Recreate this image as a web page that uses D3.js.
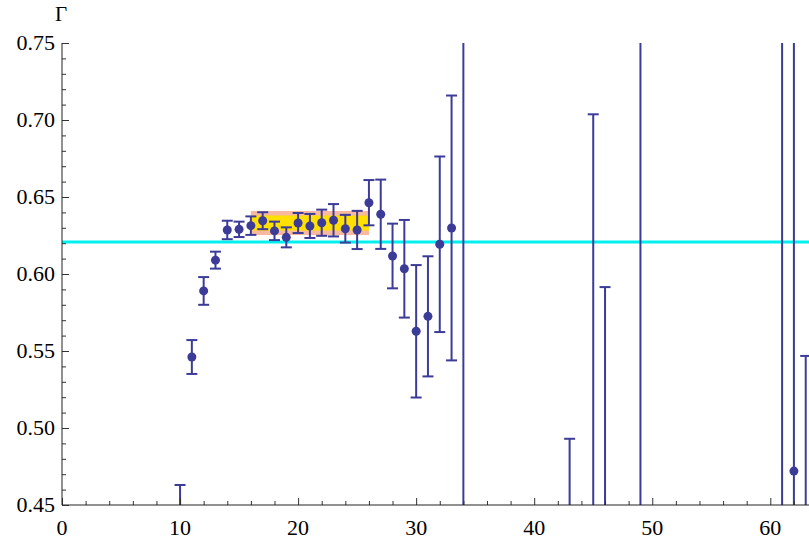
<!DOCTYPE html>
<html>
<head>
<meta charset="utf-8">
<script src="https://cdn.jsdelivr.net/npm/d3@7"></script>
<style>
  body { margin: 0; background: #fff; }
  svg { display: block; }
  text.lbl { font-family: "Liberation Serif", "DejaVu Serif", serif; font-size: 22px; fill: #000; }
</style>
</head>
<body>
<div id="chart"></div>
<script>
// data
var xs = [10, 11, 12, 13, 14, 15, 16, 17, 18, 19, 20, 21, 22, 23, 24, 25, 26, 27, 28, 29, 30, 31, 32, 33, 34, 43, 45, 46, 49, 61, 62, 63];
var gammaValues = [0.42, 0.5461, 0.589, 0.609, 0.6286, 0.629, 0.6314, 0.6346, 0.628, 0.6238, 0.6331, 0.6312, 0.6333, 0.6349, 0.6294, 0.6286, 0.6463, 0.6388, 0.6117, 0.6034, 0.5628, 0.5725, 0.6193, 0.6299, 0.30, 0.40, 0.40, 0.42, 0.90, 0.95, 0.472, 0.38];
var gammaErrors = [0.043, 0.011, 0.009, 0.0055, 0.006, 0.005, 0.006, 0.0055, 0.006, 0.0065, 0.0065, 0.0078, 0.0085, 0.0105, 0.009, 0.0124, 0.0147, 0.0225, 0.021, 0.0317, 0.043, 0.039, 0.057, 0.086, 0.50, 0.093, 0.3037, 0.1715, 0.50, 0.55, 0.50, 0.1668];
var fitValue = 0.6208;
var bandRange = [16, 26];
var bandCenter = 0.6331;
var bandOuter = 0.0078;
var bandInner = 0.0049;
var xTicks = [0, 10, 20, 30, 40, 50, 60];
var yTicks = [0.45, 0.50, 0.55, 0.60, 0.65, 0.70, 0.75];

var width = 809, height = 545;
var margin = { top: 43, left: 62, bottom: 40 };
var plotBottom = height - margin.bottom;

var svg = d3.select("#chart").append("svg")
  .attr("width", width)
  .attr("height", height);

var xScale = d3.scaleLinear().domain([0, 63.5]).range([margin.left, margin.left + 63.5 * 11.805]);
var yScale = d3.scaleLinear().domain([0.45, 0.75]).range([plotBottom, margin.top]);

svg.append("defs").append("clipPath").attr("id", "clip")
  .append("rect")
  .attr("x", margin.left).attr("y", margin.top)
  .attr("width", width - margin.left).attr("height", plotBottom - margin.top);

var plot = svg.append("g").attr("clip-path", "url(#clip)");

// fit band
plot.append("rect")
  .attr("x", xScale(bandRange[0]))
  .attr("width", xScale(bandRange[1]) - xScale(bandRange[0]))
  .attr("y", yScale(bandCenter + bandOuter))
  .attr("height", yScale(bandCenter - bandOuter) - yScale(bandCenter + bandOuter))
  .attr("fill", "#f9b9a0");
plot.append("rect")
  .attr("x", xScale(bandRange[0]))
  .attr("width", xScale(bandRange[1]) - xScale(bandRange[0]))
  .attr("y", yScale(bandCenter + bandInner))
  .attr("height", yScale(bandCenter - bandInner) - yScale(bandCenter + bandInner))
  .attr("fill", "#ffe000");

// horizontal line
plot.append("line")
  .attr("x1", margin.left).attr("x2", width)
  .attr("y1", yScale(fitValue)).attr("y2", yScale(fitValue))
  .attr("stroke", "#00f0f0")
  .attr("stroke-width", 3);

var points = xs.map(function (x, i) {
  return { x: x, v: gammaValues[i], e: gammaErrors[i] };
});

var color = "#3c3c98";
var bars = plot.append("g").selectAll("g").data(points).join("g");

bars.append("line")
  .attr("x1", d => xScale(d.x)).attr("x2", d => xScale(d.x))
  .attr("y1", d => yScale(d.v - d.e)).attr("y2", d => yScale(d.v + d.e))
  .attr("stroke", color).attr("stroke-width", 2);
bars.append("line")
  .attr("x1", d => xScale(d.x) - 5.5).attr("x2", d => xScale(d.x) + 5.5)
  .attr("y1", d => yScale(d.v - d.e)).attr("y2", d => yScale(d.v - d.e))
  .attr("stroke", color).attr("stroke-width", 2);
bars.append("line")
  .attr("x1", d => xScale(d.x) - 5.5).attr("x2", d => xScale(d.x) + 5.5)
  .attr("y1", d => yScale(d.v + d.e)).attr("y2", d => yScale(d.v + d.e))
  .attr("stroke", color).attr("stroke-width", 2);
bars.append("circle")
  .attr("cx", d => xScale(d.x)).attr("cy", d => yScale(d.v))
  .attr("r", 4.5)
  .attr("fill", color);

// axes, ticks pointing inward
var xAxis = svg.append("g").attr("transform", "translate(0," + plotBottom + ")");
xAxis.call(d3.axisTop(xScale).tickValues(d3.range(0, 64, 2)).tickSize(4).tickFormat(""));
xAxis.selectAll(".tick line").filter(d => d % 10 === 0).attr("y2", -7);
xAxis.selectAll(".domain").remove();
xAxis.append("line").attr("x1", margin.left).attr("x2", width).attr("stroke", "#222");
xAxis.selectAll(".tick line").attr("stroke", "#333");

var yAxis = svg.append("g").attr("transform", "translate(" + margin.left + ",0)");
yAxis.call(d3.axisRight(yScale).tickValues(d3.range(45, 76, 1).map(d => d / 100)).tickSize(4).tickFormat(""));
yAxis.selectAll(".tick line").filter(d => Math.round(d * 100) % 5 === 0).attr("x2", 7);
yAxis.selectAll(".domain").remove();
yAxis.append("line").attr("y1", margin.top).attr("y2", plotBottom).attr("stroke", "#222");
yAxis.selectAll(".tick line").attr("stroke", "#333");

// tick labels
svg.append("g").selectAll("text").data(xTicks).join("text")
  .attr("class", "lbl")
  .attr("x", d => xScale(d))
  .attr("y", plotBottom + 30)
  .attr("text-anchor", "middle")
  .text(d => d);

svg.append("g").selectAll("text").data(yTicks).join("text")
  .attr("class", "lbl")
  .attr("x", margin.left - 7)
  .attr("y", d => yScale(d) + 7)
  .attr("text-anchor", "end")
  .text(d => d.toFixed(2));

svg.append("text")
  .attr("class", "lbl")
  .attr("x", 61).attr("y", 21)
  .attr("text-anchor", "middle")
  .style("font-size", "21px")
  .text("Γ");
</script>
</body>
</html>
